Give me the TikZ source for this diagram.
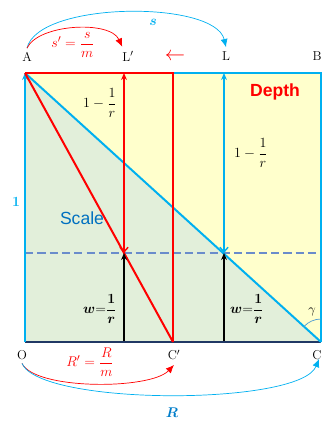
\documentclass[tikz,border=0pt]{standalone}
\usepackage{amsmath,bm}
\usepackage{fontspec}
\newfontfamily\wordfont{Liberation Sans}
\usetikzlibrary{arrows.meta, positioning}

\definecolor{redc}{HTML}{FF0000}
\definecolor{bluec}{HTML}{00B0F0}
\definecolor{scaleblue}{HTML}{0070C0}
\definecolor{greenfill}{HTML}{E2EFDA}
\definecolor{yellowfill}{HTML}{FFFFCC}
\definecolor{dashblue}{HTML}{6A8CCB}
\definecolor{navy}{HTML}{203864}

\begin{document}
\begin{tikzpicture}[
    x=0.03cm, y=-0.03cm,
    lbl/.style={font=\fontsize{11}{13}\selectfont, inner sep=0pt},
    mlbl/.style={font=\fontsize{13}{15}\selectfont, inner sep=0pt},
    word/.style={font=\wordfont\fontsize{15}{18}\selectfont, inner sep=0pt},
    redln/.style={draw=redc, line width=1.7pt},
    blueln/.style={draw=bluec, line width=1.7pt},
    arr/.style={-{Stealth[length=6pt,width=5pt]}, line width=1.4pt},
    biarr/.style={{Stealth[length=6pt,width=5pt]}-{Straight Barb[length=4pt,width=7pt]}, line width=1.2pt},
    curv/.style={-{Latex[length=7pt,width=6pt]}, line width=0.6pt},
]
\useasboundingbox (0,0) rectangle (323,421);

%% ---- CORNERS ----
\coordinate (A)   at (25,73);
\coordinate (B)   at (321,73);
\coordinate (O)   at (25,342);
\coordinate (C)   at (321,342);
\coordinate (Lp)  at (124,73);
\coordinate (L)   at (224,73);
\coordinate (Mt)  at (173,73);
\coordinate (Cp)  at (173,342);
\coordinate (Lpw) at (124,253);
\coordinate (Lw)  at (224,253);
\coordinate (Lpb) at (124,341);
\coordinate (Lb)  at (224,341);
\coordinate (Dl)  at (25,253);
\coordinate (Dr)  at (321,253);
\coordinate (Rend) at (319,359);

%% ---- FILLS ----
\fill[greenfill]  (A) -- (O) -- (C) -- cycle;
\fill[yellowfill] (A) -- (B) -- (C) -- cycle;

%% ---- POINT LABELS ----
\node[lbl] (labA)  at (27,56.5)  {A};
\node[lbl] (labLp) at (128,56.5) {L$'$};
\node[lbl] (labL)  at (226,56.5) {L};
\node[lbl] (labB)  at (317,56.5) {B};
\node[lbl] (labO)  at (22,355)   {O};
\node[lbl] (labCp) at (174,355)  {C$'$};
\node[lbl] (labC)  at (317,355)  {C};
\node[font=\fontsize{17}{17}\selectfont, text=redc, inner sep=0pt] (shift) at (175,57) {$\leftarrow$};

%% ---- DASHED LEVEL ----
\draw[dashblue, line width=0.9pt, dash pattern=on 7pt off 3.5pt] (Dl) -- (Dr);

%% ---- FRAME ----
\draw[navy, line width=1.3pt] (O) -- (C);
\draw[blueln] (Mt) -- (B) -- (C);
\draw[blueln, -{Stealth[length=6pt,width=5pt]}] (O) -- (A);
\draw[blueln] (A) -- (C);
\draw[redln] (A) -- (Mt) -- (Cp);
\draw[redln] (A) -- (Cp);

%% ---- DEPTH ARROWS ----
\draw[biarr, redc]  (Lp) -- (Lpw);
\draw[biarr, bluec] (L) -- (Lw);
\draw[arr, black] (Lpb) -- (Lpw);
\draw[arr, black] (Lb) -- (Lw);

%% ---- ANGLE ----
\draw[scaleblue!70, line width=0.6pt] (321,319) arc[start angle=270, end angle=222.3, radius=23];
\node[lbl] (gam) at (312,312) {$\gamma$};

%% ---- TEXTS ----
\node[mlbl] (dl1) at (100,103) {$1-\dfrac{1}{r}$};
\node[mlbl] (dl2) at (251,153) {$1-\dfrac{1}{r}$};
\node[mlbl] (wl1) at (100,309) {$\bm{w}{=}\dfrac{\bm{1}}{\bm{r}}$};
\node[mlbl] (wl2) at (247,309) {$\bm{w}{=}\dfrac{\bm{1}}{\bm{r}}$};
\node[mlbl, text=bluec] (one) at (16,202) {$\bm{1}$};
\node[word, text=scaleblue] (scale) at (82,218) {Scale};
\node[word, text=redc] (depth) at (275,92) {\bfseries Depth};

%% ---- TOP ARCS ----
\draw[curv, bluec] ([yshift=3pt]labA.north) .. controls (38,1) and (215,0) .. ([yshift=4pt]labL.north);
\node[mlbl, text=bluec] (s) at (153,22) {$\bm{s}$};
\draw[curv, redc] ([yshift=3pt]labA.north) .. controls (38,24) and (110,20) .. ([yshift=4pt]labLp.north west);
\node[mlbl, text=redc] (sp) at (73,45) {$s'=\dfrac{s}{m}$};

%% ---- BOTTOM ARCS ----
\draw[curv, redc] ([yshift=-3pt]labO.south) .. controls (35,390) and (150,390) .. ([yshift=-4pt]labCp.south);
\node[mlbl, text=redc] (Rp) at (90,362) {$R'=\dfrac{R}{m}$};
\draw[curv, bluec] ([yshift=-3pt]labO.south) .. controls (40,406) and (300,406) .. (Rend);
\node[mlbl, text=scaleblue!80!bluec] (R) at (172,413) {$\bm{R}$};

\end{tikzpicture}
\end{document}
